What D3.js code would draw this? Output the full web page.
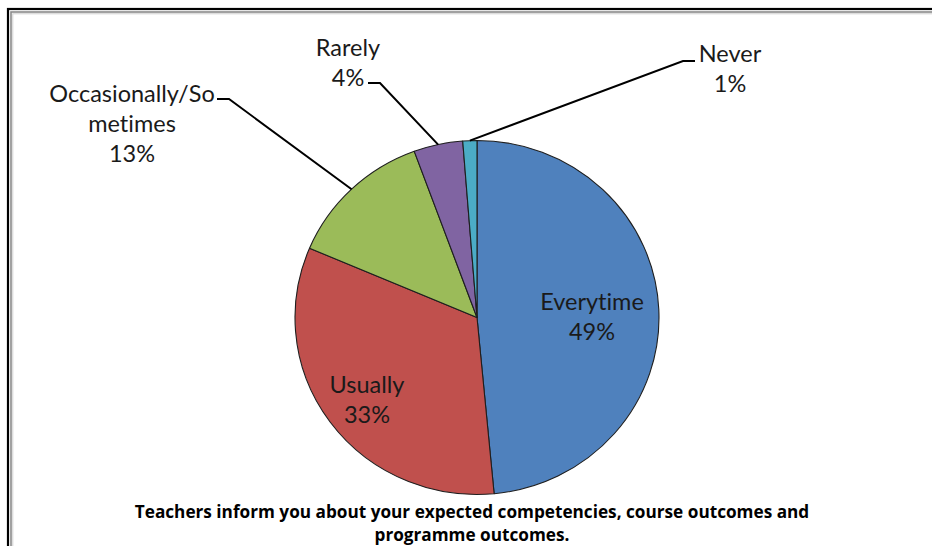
<!DOCTYPE html>
<html>
<head>
<meta charset="utf-8">
<script src="https://cdn.jsdelivr.net/npm/d3@7"></script>
<style>
  html, body { margin: 0; padding: 0; background: #fff; }
  svg { display: block; }
  text { font-variant-ligatures: none; font-feature-settings: "liga" 0, "clig" 0; }
</style>
</head>
<body>
<svg id="chart" width="932" height="546"></svg>
<script>
// ---- data ----
const categories = ["Everytime", "Usually", "Occasionally/So\nmetimes", "Rarely", "Never"];
const values = [48.5, 32.9, 13.0, 4.35, 1.25];
const colors = ["#4F81BD", "#C0504D", "#9BBB59", "#8064A2", "#4BACC6"];
const titleLines = ["Teachers inform you about your expected competencies, course outcomes and", "programme outcomes."];

// ---- layout ----
const W = 932, H = 546;
const cx = 477, cy = 317.5, rx = 182, ry = 177;
const fontFam = "Lato, 'Open Sans', sans-serif";
const labelFont = 23.5, lineH = 30;

// label placement (x center, first baseline) and leader elbow/end (for outside labels)
const labelPos = [
  { x: 592, y: 310, inside: true },
  { x: 367, y: 393, inside: true },
  { x: 132, y: 102, elbow: [229, 99], start: [217, 99] },
  { x: 348, y: 56, elbow: [380, 83], start: [368, 83] },
  { x: 730, y: 62, elbow: [683, 61], start: [695, 61] }
];

const svg = d3.select("#chart");

// frame
svg.append("rect").attr("x", 8).attr("y", 9).attr("width", W + 20).attr("height", H + 20)
  .attr("fill", "none").attr("stroke", "#000").attr("stroke-width", 2.2);
svg.append("rect").attr("x", 11).attr("y", 12).attr("width", W + 20).attr("height", H + 20)
  .attr("fill", "none").attr("stroke", "#8a8a8a").attr("stroke-width", 1.6);
svg.append("rect").attr("x", 12.8).attr("y", 13.8).attr("width", W + 20).attr("height", H + 20)
  .attr("fill", "none").attr("stroke", "#cfcfcf").attr("stroke-width", 1);

const pie = d3.pie().sort(null).value(d => d.v);
const data = pie(values.map((v, i) => ({ v, i })));
const R = rx;
const arc = d3.arc().innerRadius(0).outerRadius(R);

const g = svg.append("g").attr("transform", `translate(${cx},${cy}) scale(1,${ry / rx})`);
g.selectAll("path.slice").data(data).enter().append("path")
  .attr("class", "slice")
  .attr("d", arc)
  .attr("fill", d => colors[d.data.i])
  .attr("stroke", "#1e1e1e")
  .attr("stroke-width", 1.1)
  .attr("stroke-linejoin", "round");

// leader lines
data.forEach(d => {
  const lp = labelPos[d.data.i];
  if (lp.inside) return;
  const a = (d.startAngle + d.endAngle) / 2;
  const px = cx + rx * Math.sin(a);
  const py = cy - ry * Math.cos(a);
  svg.append("polyline")
    .attr("points", [lp.start, lp.elbow, [px, py]].map(p => p.join(",")).join(" "))
    .attr("fill", "none").attr("stroke", "#000").attr("stroke-width", 2);
});

// labels
data.forEach(d => {
  const lp = labelPos[d.data.i];
  const lines = categories[d.data.i].split("\n").concat([Math.round(d.data.v) + "%"]);
  const t = svg.append("text")
    .attr("x", lp.x).attr("y", lp.y)
    .attr("text-anchor", "middle")
    .attr("font-family", fontFam)
    .attr("font-size", labelFont)
    .attr("fill", "#1a1a1a");
  lines.forEach((ln, k) => {
    t.append("tspan").attr("x", lp.x).attr("y", lp.y + k * lineH).text(ln);
  });
});

// title (fit first line to the reference width)
const tt = svg.append("text")
  .attr("text-anchor", "middle")
  .attr("font-family", "'Open Sans', Lato, sans-serif")
  .attr("font-weight", "bold")
  .attr("font-size", 16)
  .attr("fill", "#000");
const spans = titleLines.map((ln, k) =>
  tt.append("tspan").attr("x", 472).attr("y", 518 + k * 23).text(ln));
const w0 = spans[0].node().getComputedTextLength();
if (w0 > 0) tt.attr("font-size", Math.min(20, 16 * 675 / w0));
</script>
</body>
</html>
